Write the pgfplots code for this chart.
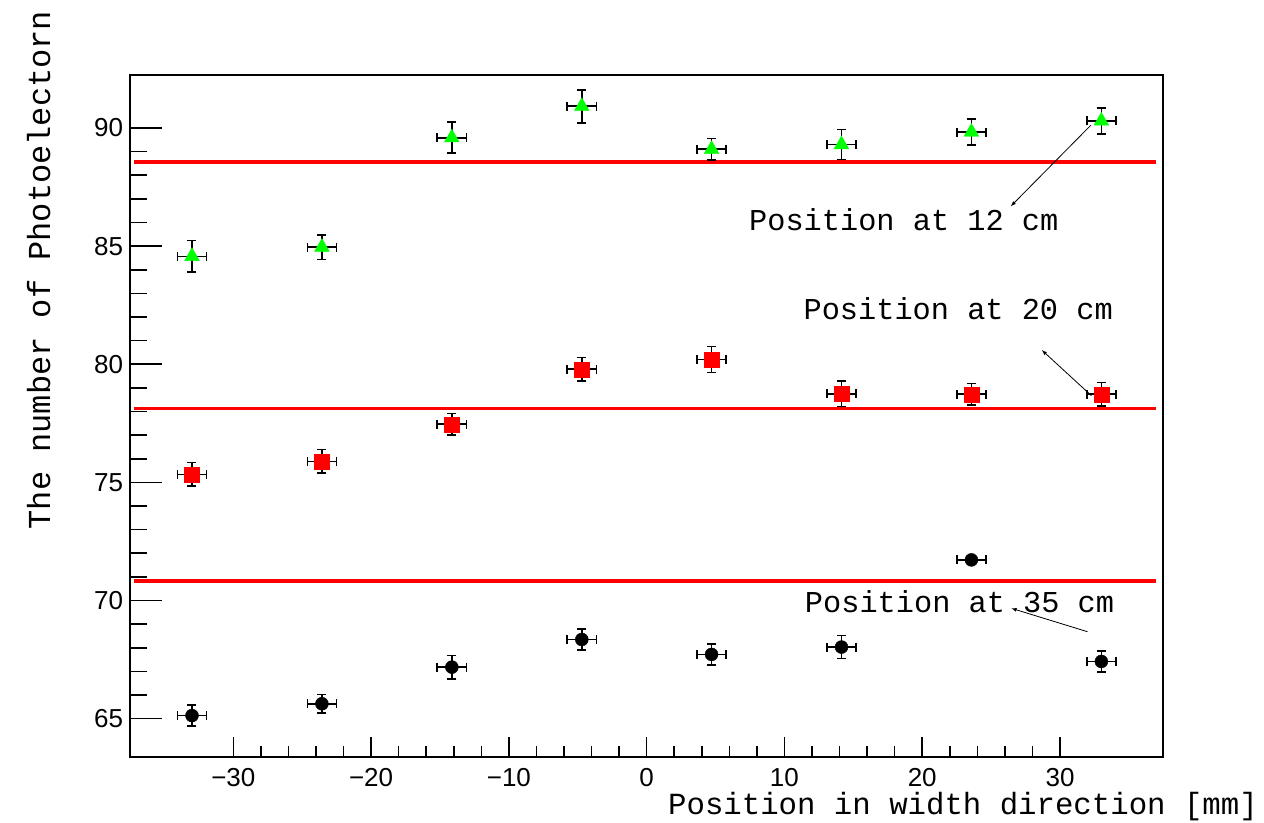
\documentclass[border=0pt]{standalone}
\usepackage{pgfplots}
\pgfplotsset{compat=1.18}
\usepackage{pgfplotstable}
\usepackage{fontspec}
\newfontfamily\monof{Liberation Mono}
\newfontfamily\sansf{Liberation Sans}

\pgfplotstableread{
x ex y ey
-33.0 1.06 84.57 0.67
-23.57 1.06 84.96 0.52
-14.14 1.06 89.59 0.66
-4.71 1.06 90.92 0.70
4.71 1.06 89.10 0.45
14.14 1.06 89.30 0.63
23.57 1.06 89.83 0.55
33.0 1.06 90.30 0.55
}\greendata

\pgfplotstableread{
x ex y ey
-33.0 1.06 75.34 0.50
-23.57 1.06 75.89 0.50
-14.14 1.06 77.46 0.45
-4.71 1.06 79.79 0.50
4.71 1.06 80.21 0.55
14.14 1.06 78.75 0.53
23.57 1.06 78.73 0.45
33.0 1.06 78.73 0.50
}\reddata

\pgfplotstableread{
x ex y ey
-33.0 1.06 65.13 0.44
-23.57 1.06 65.63 0.40
-14.14 1.06 67.18 0.49
-4.71 1.06 68.35 0.45
4.71 1.06 67.72 0.45
14.14 1.06 68.03 0.49
23.57 1.06 71.72 0.12
33.0 1.06 67.42 0.44
}\blackdata

\pgfplotsset{
  common/.style={
    scale only axis,
    width=1033.3bp, height=681.7bp,
    xmin=-37.5, xmax=37.5,
    ymin=63.37, ymax=92.23,
    tick align=inside,
    tick pos=left,
    tick style={line width=1.6bp, black},
    /pgf/number format/assume math mode=true,
    tick label style={font=\sansf\fontsize{26bp}{30bp}\selectfont, inner sep=0pt},
  },
}

\begin{document}
\begin{tikzpicture}
% y ticks (longer) in an overlay axis
\begin{axis}[
  common,
  axis line style={draw=none},
  xtick=\empty,
  ytick={65,70,75,80,85,90},
  minor y tick num=4,
  major tick length=32bp,
  minor tick length=17bp,
  yticklabel style={xshift=-6.7bp},
]
\addplot[draw=none, forget plot] coordinates {(0,70)};
\end{axis}

\begin{axis}[
  common,
  axis line style={line width=1.8bp, black},
  xtick={-30,-20,-10,0,10,20,30},
  xticklabels={−30,−20,−10,0,10,20,30},
  ytick=\empty,
  minor x tick num=4,
  major tick length=20bp,
  minor tick length=11bp,
  xticklabel style={yshift=-11bp},
  xlabel={Position in width direction [mm]},
  ylabel={The number of Photoelectorn},
  xlabel style={font=\monof\fontsize{30.7bp}{36bp}\selectfont, at={(axis description cs:1.0916,-0.0836)}, anchor=base east, inner sep=0pt},
  ylabel style={font=\monof\fontsize{32bp}{38bp}\selectfont, at={(axis description cs:-0.0774,1.095)}, anchor=base east, inner sep=0pt},
  clip=false,
  error bars/error bar style={black, line width=1.6bp},
  error bars/error mark options={black, line width=1.6bp, mark size=4.5bp, rotate=90},
]
\addplot[red, line width=3.5bp, forget plot] coordinates {(-37.2,88.57) (36.95,88.57)};
\addplot[red, line width=3.5bp, forget plot] coordinates {(-37.2,78.12) (36.95,78.12)};
\addplot[red, line width=3.5bp, forget plot] coordinates {(-37.2,70.82) (36.95,70.82)};

\addplot[only marks, mark=triangle*, mark size=8.5bp, color={rgb,1:red,0;green,1;blue,0},
  error bars/.cd, x dir=both, x explicit, y dir=both, y explicit]
  table[x=x, y=y, x error=ex, y error=ey] {\greendata};
\addplot[only marks, mark=square*, mark size=7.5bp, color=red,
  error bars/.cd, x dir=both, x explicit, y dir=both, y explicit]
  table[x=x, y=y, x error=ex, y error=ey] {\reddata};
\addplot[only marks, mark=*, mark size=6.5bp, color=black,
  error bars/.cd, x dir=both, x explicit, y dir=both, y explicit]
  table[x=x, y=y, x error=ex, y error=ey] {\blackdata};

\draw[-latex, line width=0.8bp] (axis cs:32.24,90.12) -- (axis cs:26.43,86.69);
\draw[-latex, line width=0.8bp] (axis cs:32.28,78.67) -- (axis cs:28.68,80.60);
\draw[-latex, line width=0.8bp] (axis cs:31.99,68.68) -- (axis cs:26.47,69.67);

\node[font=\monof\fontsize{30.3bp}{36bp}\selectfont, anchor=base, inner sep=0pt] at (axis cs:18.66,85.67) {Position at 12 cm};
\node[font=\monof\fontsize{30.3bp}{36bp}\selectfont, anchor=base, inner sep=0pt] at (axis cs:22.61,81.89) {Position at 20 cm};
\node[font=\monof\fontsize{30.3bp}{36bp}\selectfont, anchor=base, inner sep=0pt] at (axis cs:22.71,69.51) {Position at 35 cm};

\coordinate (bbsw) at (axis description cs:-0.1258,-0.0953);
\coordinate (bbne) at (axis description cs:1.0974,1.1105);
\end{axis}
\pgfresetboundingbox
\path[use as bounding box] (bbsw) rectangle (bbne);
\end{tikzpicture}
\end{document}
